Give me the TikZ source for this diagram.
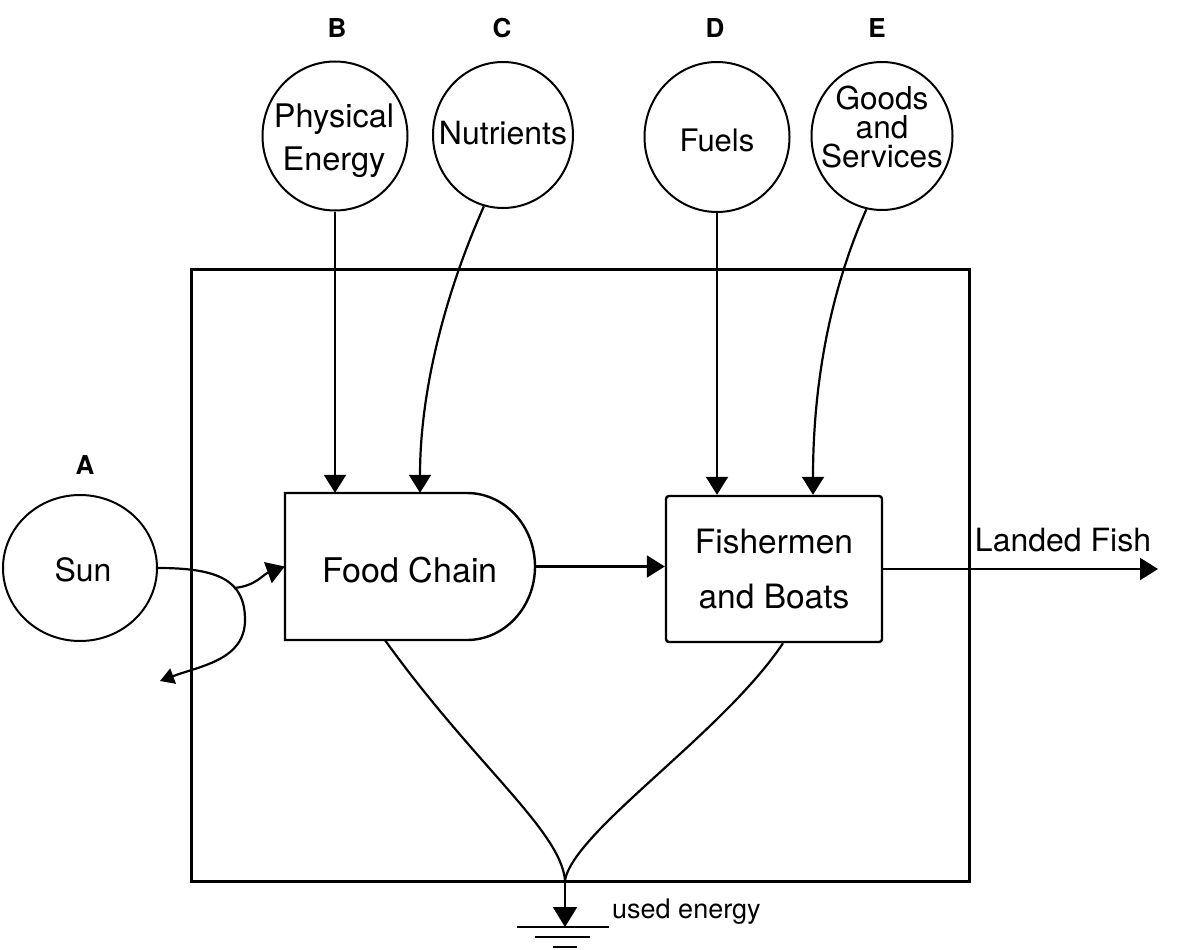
\documentclass[tikz,border=0pt]{standalone}
\usepackage{fontspec}
\setmainfont{TeX Gyre Heros}
\usetikzlibrary{shapes.geometric,arrows.meta}
\begin{document}
\begin{tikzpicture}[x=1pt,y=-1pt,
  txt/.style={font=\fontsize{32}{34}\selectfont,inner sep=0pt,align=center},
  src/.style={ellipse,draw,line width=2pt,inner sep=0pt},
  lbl/.style={font=\fontsize{26}{28}\selectfont\bfseries,inner sep=0pt},
  flow/.style={line width=2.2pt,-{Triangle[width=22pt,length=18pt]}},
  plain/.style={line width=2.2pt},
  ]
\useasboundingbox[fill=white] (0,0) rectangle (1179,950);

% system boundary
\node[draw,line width=2.6pt,minimum width=778pt,minimum height=612pt,inner sep=0pt,anchor=north west] (sys) at (190,268) {};

% sources
\node[src,minimum width=154pt,minimum height=146pt] (sun) at (80,568) {};
\node[src,minimum width=145pt,minimum height=149pt] (B) at (335,136) {};
\node[src,minimum width=140pt,minimum height=146pt] (C) at (503,135) {};
\node[src,minimum width=145pt,minimum height=150pt] (D) at (717,137) {};
\node[src,minimum width=141pt,minimum height=148pt] (E) at (882,136) {};

\node[txt] (sunT) at (83,570) {Sun};
\node[txt,font=\fontsize{32.5}{43}\selectfont] (BT) at (334,141) {Physical\\Energy};
\node[txt] (CT) at (503,133) {Nutrients};
\node[txt,font=\fontsize{31}{34}\selectfont] (DT) at (717,140) {Fuels};
\node[txt,font=\fontsize{31.5}{29}\selectfont] (ET) at (882,127) {Goods\\and\\Services};

\node[lbl] (la) at (85,465) {A};
\node[lbl] (lb) at (337,28) {B};
\node[lbl] (lc) at (502,28) {C};
\node[lbl] (ld) at (715,28) {D};
\node[lbl] (le) at (877,28) {E};

% food chain (producer shape)
\draw[line width=2.4pt] (285,493) -- (467,493)
  arc[start angle=-90,end angle=90,x radius=68,y radius=73.5]
  -- (285,640) -- cycle;
\node[minimum width=250pt,minimum height=147pt,inner sep=0pt] (fc) at (410,566.5) {};
\node[txt,font=\fontsize{34}{36}\selectfont] (fcT) at (410,570) {Food Chain};

% fishermen
\node[draw,line width=2.4pt,rounded corners=3pt,minimum width=216pt,minimum height=146pt,
  txt,font=\fontsize{33.5}{55}\selectfont] (fb) at (774,569) {Fishermen\\and Boats};

% inputs from above
\draw[flow] (B.south) -- (B.south |- fc.north);
\draw[flow] (C.255) .. controls +(-40,90) and +(0,-100) .. ([xshift=10pt]fc.north);
\draw[flow] (D.south) -- (D.south |- fb.north);
\draw[flow] (E.258) .. controls +(-40,90) and +(0,-100) .. ([xshift=39pt]fb.north);

% sun loop
\coordinate (split) at (234,588);
\coordinate (sink) at (160,681);
\draw[flow,-{Triangle[width=16pt,length=14pt]}] (sun.east) .. controls +(60,0) and +(0,-40) .. (245,620)
  .. controls +(0,40) and +(40,-15) .. (sink);
\draw[flow] (split) .. controls +(22,-2) and +(-22,8) .. (fc.west);

% main flows
\draw[flow] (fc.east) -- (fc.east -| fb.west);
\coordinate (out) at (1158,569);
\draw[flow] (fb.east) -- (out);
\node[txt] (landed) at (1063,540) {Landed Fish};

% heat sink
\coordinate (merge) at (565,880);
\coordinate (gnd) at (565,927);
\draw[plain] ([xshift=-25pt]fc.south) .. controls +(90,125) and +(-5,-50) .. (merge);
\draw[plain] ([xshift=9pt]fb.south) .. controls +(-60,90) and +(10,-50) .. (merge);
\draw[line width=2.2pt,-{Triangle[width=24pt,length=20pt]}] (merge) -- (gnd);
\draw[line width=2.4pt] (517,927) -- (609,927);
\draw[line width=2.4pt] (535,937) -- (590,937);
\draw[line width=2.4pt] (553,947) -- (577,947);
\node[txt,font=\fontsize{27}{30}\selectfont,anchor=base west] (used) at (612,918) {used energy};
\end{tikzpicture}
\end{document}
